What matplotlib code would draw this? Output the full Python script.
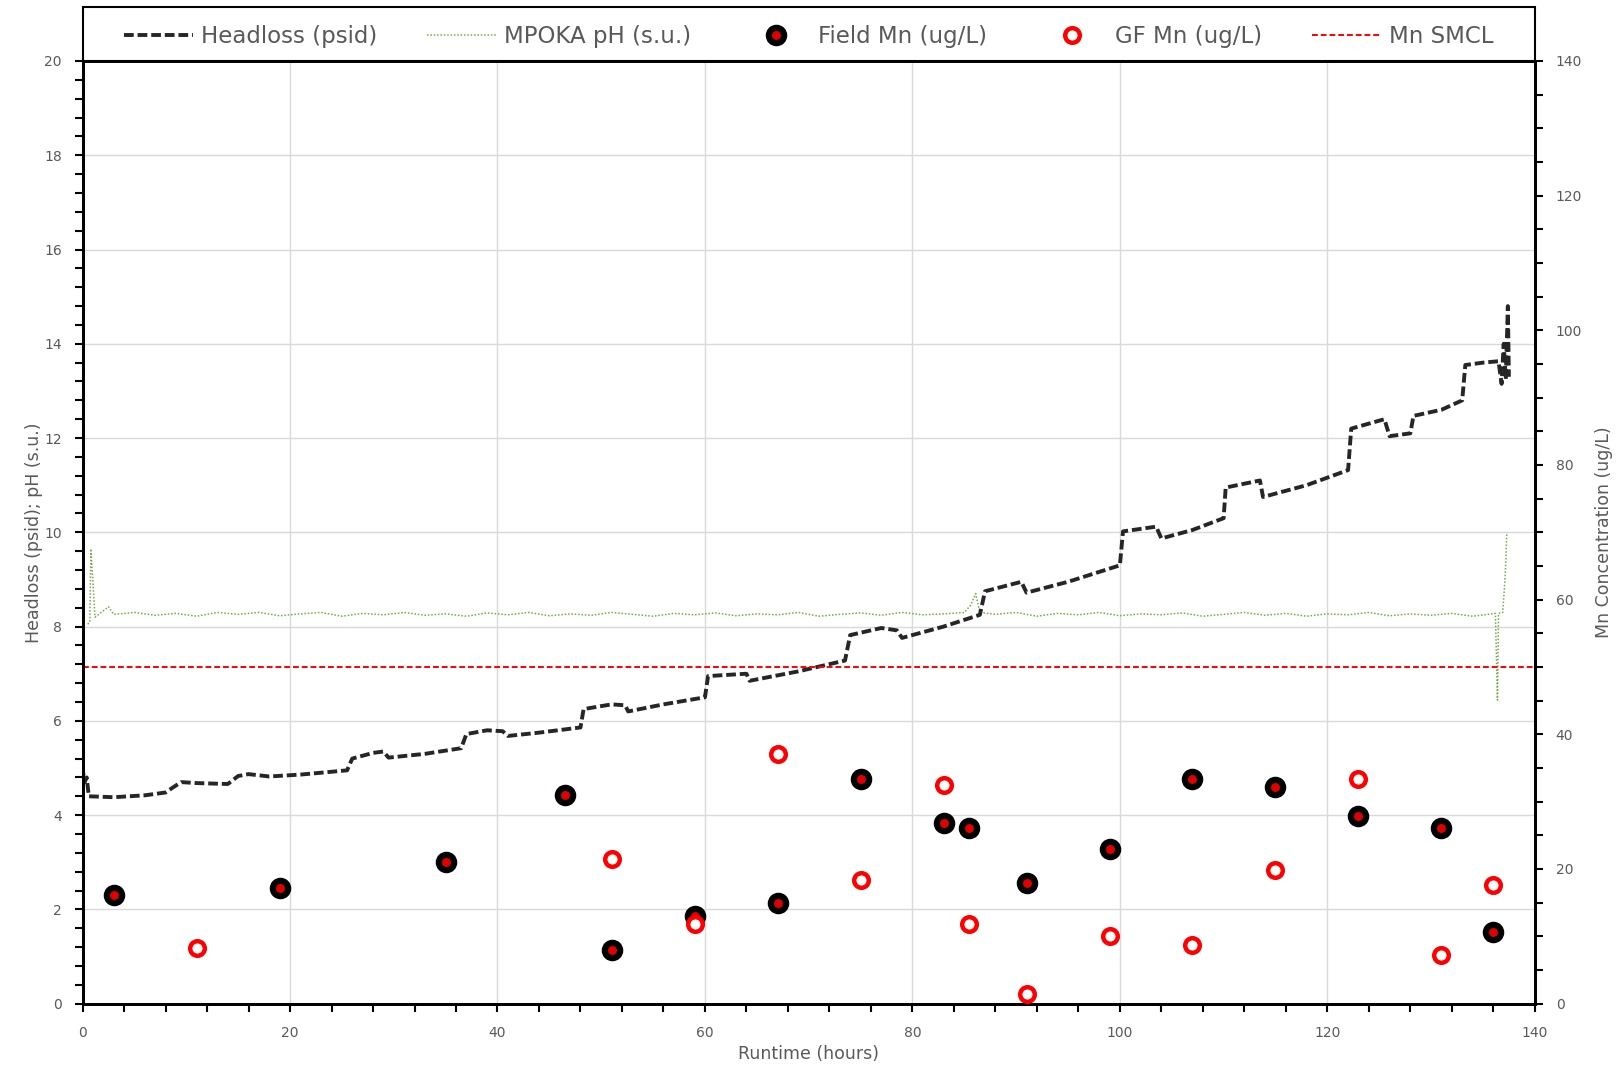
import matplotlib
matplotlib.use("Agg")
import matplotlib.pyplot as plt
from matplotlib.ticker import MultipleLocator
from matplotlib.lines import Line2D
from matplotlib.patches import Rectangle

plt.rcParams['font.family'] = ['DejaVu Sans']

# Headloss (psid) vs runtime (hours)
hl_t = [0.0, 0.05, 0.2, 0.4, 0.6, 3, 6, 8, 8.8, 9.5, 11, 14, 15, 16, 18, 21, 24, 25.5,
        26, 28, 29, 29.5, 33, 36.5, 37, 39, 40.5, 41, 44, 48, 48.3, 51, 52.3, 52.6,
        56, 60, 60.3, 64, 64.3, 69, 73.5, 74, 77, 78.5, 79, 83, 86.5, 87, 90.5, 91,
        95, 100, 100.3, 103.5, 104, 107, 110, 110.2, 113.5, 113.8, 118, 122, 122.3,
        125.5, 126, 128, 128.3, 131, 133, 133.3, 135, 136.5, 136.8, 137.0, 137.2,
        137.4, 137.5]
hl_v = [3.6, 4.9, 4.7, 4.8, 4.4, 4.38, 4.42, 4.48, 4.6, 4.7, 4.68, 4.66, 4.83, 4.87,
        4.82, 4.86, 4.92, 4.95, 5.2, 5.32, 5.35, 5.22, 5.3, 5.42, 5.72, 5.8, 5.78,
        5.68, 5.75, 5.86, 6.25, 6.35, 6.33, 6.2, 6.35, 6.5, 6.95, 7.0, 6.85, 7.05,
        7.28, 7.82, 7.97, 7.92, 7.76, 8.0, 8.25, 8.75, 8.95, 8.72, 8.95, 9.3, 10.02,
        10.12, 9.87, 10.05, 10.3, 10.95, 11.1, 10.75, 11.0, 11.32, 12.2, 12.4, 12.04,
        12.1, 12.47, 12.6, 12.8, 13.55, 13.6, 13.63, 13.15, 14.0, 13.25, 14.8, 13.3]

# MPOKA pH (s.u.)
ph_t = [0.5, 0.7, 0.8, 1.2, 1.5, 2.5, 3.0, 5, 7, 9, 11, 13, 15, 17, 19, 21, 23, 25,
        27, 29, 31, 33, 35, 37, 39, 41, 43, 45, 47, 49, 51, 53, 55, 57, 59, 61, 63,
        65, 67, 69, 71, 73, 75, 77, 79, 81, 83, 85, 85.6, 86.1, 86.5, 88, 90, 92,
        94, 96, 98, 100, 102, 104, 106, 108, 110, 112, 114, 116, 118, 120, 122,
        124, 126, 128, 130, 132, 134, 136.2, 136.4, 136.5, 136.9, 137.0, 137.1,
        137.2, 137.3]
ph_v = [8.05, 8.1, 9.65, 8.2, 8.25, 8.42, 8.26, 8.3, 8.24, 8.28, 8.22, 8.3, 8.26,
        8.3, 8.23, 8.27, 8.3, 8.22, 8.28, 8.25, 8.3, 8.24, 8.27, 8.22, 8.29, 8.25,
        8.3, 8.23, 8.27, 8.24, 8.3, 8.26, 8.22, 8.28, 8.25, 8.29, 8.23, 8.27, 8.25,
        8.3, 8.22, 8.26, 8.29, 8.24, 8.3, 8.25, 8.27, 8.3, 8.45, 8.7, 8.3, 8.26,
        8.3, 8.22, 8.28, 8.25, 8.3, 8.23, 8.27, 8.25, 8.29, 8.22, 8.26, 8.3, 8.24,
        8.28, 8.22, 8.27, 8.25, 8.3, 8.23, 8.27, 8.24, 8.28, 8.22, 8.28, 6.44, 8.28,
        8.3, 8.6, 8.92, 9.35, 10.0]

# Field Mn (ug/L)
field_t = [3, 19, 35, 46.5, 51, 59, 67, 75, 83, 85.5, 91, 99, 107, 115, 123, 131, 136]
field_mn = [16.1, 17.2, 21.0, 31.0, 8.0, 13.0, 14.9, 33.3, 26.8, 26.1, 17.9, 23.0,
            33.3, 32.2, 27.9, 26.1, 10.7]

# GF Mn (ug/L)
gf_t = [11, 51, 59, 67, 75, 83, 85.5, 91, 99, 107, 115, 123, 131, 136]
gf_mn = [8.3, 21.5, 11.8, 37.1, 18.4, 32.5, 11.8, 1.4, 10.0, 8.7, 19.9, 33.3, 7.2, 17.6]

smcl = 50

fig = plt.figure(figsize=(16.19, 10.70), dpi=100)
ax = fig.add_axes([0.051, 0.062, 0.897, 0.881])
ax2 = ax.twinx()

grey = '#595959'
ax.grid(True, color='#d9d9d9', lw=1)
ax.set_axisbelow(True)

hl_style = dict(color='#262626', lw=2.8, ls=(0, (2.5, 1)))
ph_style = dict(color='#70ad47', lw=1.1, ls=(0, (1, 1.2)))
field_style = dict(ls='none', marker='o', ms=11, mfc='#e00000', mec='black', mew=4.5)
gf_style = dict(ls='none', marker='o', ms=10.5, mfc='white', mec='red', mew=3.2)
smcl_style = dict(color='red', lw=1.4, ls=(0, (3, 1.5)))

ax.plot(hl_t, hl_v, zorder=3, **hl_style)
ax.plot(ph_t, ph_v, zorder=2, **ph_style)
ax2.plot(field_t, field_mn, zorder=4, **field_style)
ax2.plot(gf_t, gf_mn, zorder=4, **gf_style)
ax2.axhline(smcl, **smcl_style)

ax.set_xlim(0, 140)
ax.set_ylim(0, 20)
ax2.set_ylim(0, 140)

ax.xaxis.set_major_locator(MultipleLocator(20))
ax.xaxis.set_minor_locator(MultipleLocator(4))
ax.yaxis.set_major_locator(MultipleLocator(2))
ax.yaxis.set_minor_locator(MultipleLocator(0.4))
ax2.yaxis.set_major_locator(MultipleLocator(20))
ax2.yaxis.set_minor_locator(MultipleLocator(5))

for a in (ax, ax2):
    a.tick_params(which='both', direction='out', length=6, width=1.5,
                  labelsize=10, labelcolor=grey, pad=9)
    for s in a.spines.values():
        s.set_linewidth(2)
        s.set_color('black')
ax.tick_params(axis='x', pad=10)

ax.set_xlabel('Runtime (hours)', fontsize=12.5, color=grey, labelpad=4)
ax.set_ylabel('Headloss (psid); pH (s.u.)', fontsize=12.5, color=grey, labelpad=1)
ax2.set_ylabel('Mn Concentration (ug/L)', fontsize=12.5, color=grey, labelpad=9)

# legend box across the top of the plot area
box_h = 0.0573
ax.add_patch(Rectangle((0, 1), 1, box_h, transform=ax.transAxes, clip_on=False,
                       facecolor='white', edgecolor='black', lw=1.5, zorder=5))
handles = [Line2D([], [], **hl_style), Line2D([], [], **ph_style),
           Line2D([], [], **field_style), Line2D([], [], **gf_style),
           Line2D([], [], **smcl_style)]
labels = ['Headloss (psid)', 'MPOKA pH (s.u.)', 'Field Mn (ug/L)',
          'GF Mn (ug/L)', 'Mn SMCL']
leg = ax2.legend(handles, labels, loc='center', bbox_to_anchor=(0, 0.997, 1, box_h),
                 ncol=5, borderaxespad=0, frameon=False, fontsize=16.5,
                 handlelength=3, numpoints=1, labelcolor=grey, handletextpad=0.35,
                 columnspacing=2.2)
leg.set_zorder(6)

fig.savefig('out.png', dpi=100)
